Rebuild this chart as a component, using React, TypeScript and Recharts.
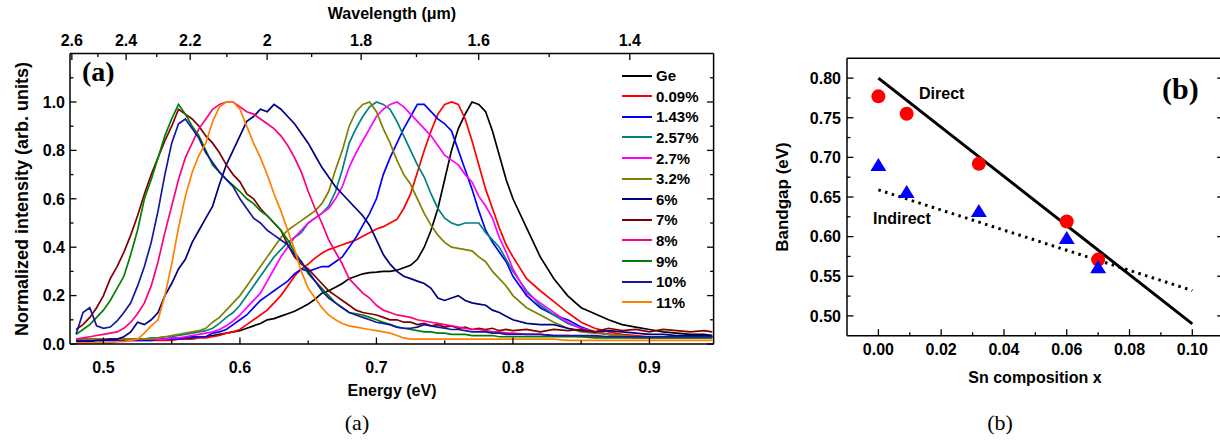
import { LineChart, Line, XAxis, YAxis, ComposedChart, Scatter } from 'recharts';

const SANS = '"Liberation Sans", Arial, sans-serif';
const SERIF = '"Liberation Serif", "Times New Roman", serif';

// ---- (a) normalized PL spectra on a shared energy grid (eV) ----
const energyGrid = [
  0.48, 0.485, 0.49, 0.495, 0.5, 0.505, 0.51, 0.515, 0.52, 0.525,
  0.53, 0.535, 0.54, 0.545, 0.55, 0.555, 0.56, 0.565, 0.57, 0.575,
  0.58, 0.585, 0.59, 0.595, 0.6, 0.605, 0.61, 0.615, 0.62, 0.625,
  0.63, 0.635, 0.64, 0.645, 0.65, 0.655, 0.66, 0.665, 0.67, 0.675,
  0.68, 0.685, 0.69, 0.695, 0.7, 0.705, 0.71, 0.715, 0.72, 0.725,
  0.73, 0.735, 0.74, 0.745, 0.75, 0.755, 0.76, 0.765, 0.77, 0.775,
  0.78, 0.785, 0.79, 0.795, 0.8,
  0.81, 0.82, 0.83, 0.84, 0.85, 0.86, 0.87, 0.88, 0.89, 0.9, 0.91, 0.92, 0.93, 0.94, 0.946,
];

const ge = [
  0.02, 0.02, 0.02, 0.02, 0.02, 0.02, 0.02, 0.02, 0.02, 0.02,
  0.02, 0.02, 0.02, 0.02, 0.025, 0.025, 0.025, 0.03, 0.03, 0.03,
  0.035, 0.04, 0.045, 0.05, 0.055, 0.065, 0.075, 0.085, 0.1, 0.105,
  0.115, 0.125, 0.135, 0.15, 0.165, 0.185, 0.21, 0.22, 0.235, 0.25,
  0.27, 0.28, 0.29, 0.295, 0.297, 0.3, 0.3, 0.305, 0.315, 0.325,
  0.35, 0.4, 0.47, 0.56, 0.68, 0.8, 0.89, 0.95, 1.0, 0.99,
  0.96, 0.88, 0.78, 0.68, 0.6,
  0.48, 0.36, 0.27, 0.2, 0.15, 0.125, 0.1, 0.08, 0.07, 0.06, 0.05, 0.045, 0.04, 0.04, 0.035,
];
const sn009 = [
  0.015, 0.015, 0.015, 0.015, 0.015, 0.015, 0.015, 0.015, 0.015, 0.015,
  0.015, 0.015, 0.015, 0.015, 0.015, 0.02, 0.02, 0.02, 0.025, 0.025,
  0.03, 0.035, 0.045, 0.05, 0.06, 0.08, 0.1, 0.12, 0.14, 0.17,
  0.2, 0.24, 0.28, 0.31, 0.33, 0.355, 0.375, 0.39, 0.4, 0.41,
  0.42, 0.43, 0.445, 0.46, 0.475, 0.485, 0.5, 0.515, 0.56, 0.62,
  0.71, 0.8, 0.88, 0.95, 0.99, 1.0, 0.99, 0.93, 0.84, 0.74,
  0.64, 0.56, 0.48, 0.41, 0.36,
  0.27, 0.22, 0.175, 0.13, 0.09, 0.065, 0.05, 0.04, 0.035, 0.03, 0.03, 0.03, 0.03, 0.03, 0.03,
];
const sn143 = [
  0.015, 0.015, 0.015, 0.015, 0.015, 0.015, 0.015, 0.015, 0.015, 0.015,
  0.015, 0.015, 0.02, 0.02, 0.02, 0.02, 0.025, 0.025, 0.03, 0.03,
  0.045, 0.05, 0.06, 0.08, 0.1, 0.12, 0.15, 0.18, 0.2, 0.22,
  0.24, 0.26, 0.29, 0.31, 0.3, 0.31, 0.32, 0.32, 0.34, 0.36,
  0.4, 0.44, 0.49, 0.54, 0.6, 0.7, 0.77, 0.83, 0.89, 0.94,
  0.99, 0.99, 0.96, 0.93, 0.91, 0.88, 0.8, 0.72, 0.64, 0.55,
  0.47, 0.42, 0.38, 0.34, 0.28,
  0.2, 0.15, 0.12, 0.1, 0.07, 0.05, 0.04, 0.035, 0.03, 0.03, 0.03, 0.03, 0.03, 0.03, 0.03,
];
const sn257 = [
  0.02, 0.02, 0.02, 0.02, 0.02, 0.02, 0.02, 0.02, 0.02, 0.02,
  0.02, 0.025, 0.025, 0.03, 0.03, 0.035, 0.04, 0.045, 0.05, 0.055,
  0.065, 0.085, 0.11, 0.13, 0.16, 0.2, 0.24, 0.28, 0.32, 0.36,
  0.39, 0.42, 0.44, 0.46, 0.5, 0.52, 0.54, 0.57, 0.63, 0.72,
  0.83, 0.89, 0.94, 0.98, 1.0, 0.99, 0.97, 0.92, 0.86, 0.8,
  0.74, 0.69, 0.62, 0.56, 0.52, 0.5, 0.49, 0.5, 0.5, 0.5,
  0.46, 0.43, 0.4, 0.35, 0.3,
  0.22, 0.16, 0.12, 0.085, 0.065, 0.05, 0.04, 0.035, 0.03, 0.03, 0.03, 0.03, 0.03, 0.03, 0.03,
];
const sn27 = [
  0.02, 0.02, 0.02, 0.02, 0.02, 0.02, 0.02, 0.02, 0.02, 0.02,
  0.02, 0.02, 0.02, 0.02, 0.025, 0.025, 0.03, 0.035, 0.04, 0.045,
  0.05, 0.06, 0.075, 0.095, 0.12, 0.15, 0.18, 0.21, 0.26, 0.31,
  0.36, 0.4, 0.44, 0.47, 0.5, 0.52, 0.54, 0.56, 0.6, 0.65,
  0.73, 0.79, 0.84, 0.89, 0.94, 0.97, 0.99, 1.0, 0.98, 0.95,
  0.92, 0.89, 0.86, 0.82, 0.78, 0.76, 0.74, 0.7, 0.67, 0.61,
  0.57, 0.52, 0.44, 0.38, 0.31,
  0.21, 0.17, 0.13, 0.09, 0.065, 0.05, 0.04, 0.035, 0.03, 0.03, 0.03, 0.03, 0.03, 0.03, 0.03,
];
const sn32 = [
  0.02, 0.02, 0.02, 0.02, 0.02, 0.02, 0.02, 0.02, 0.02, 0.02,
  0.02, 0.02, 0.025, 0.03, 0.035, 0.04, 0.045, 0.05, 0.055, 0.065,
  0.09, 0.11, 0.14, 0.17, 0.2, 0.24, 0.28, 0.32, 0.36, 0.4,
  0.44, 0.47, 0.49, 0.51, 0.53, 0.55, 0.58, 0.63, 0.72, 0.8,
  0.9, 0.96, 0.99, 1.0, 0.96, 0.89, 0.83, 0.76, 0.7, 0.66,
  0.6, 0.54, 0.49, 0.45, 0.42, 0.4, 0.395, 0.39, 0.385, 0.36,
  0.34, 0.3, 0.27, 0.24, 0.2,
  0.15, 0.12, 0.09, 0.065, 0.05, 0.045, 0.04, 0.035, 0.03, 0.03, 0.03, 0.03, 0.03, 0.03, 0.03,
];
const sn6 = [
  0.01, 0.01, 0.01, 0.015, 0.015, 0.02, 0.02, 0.03, 0.05, 0.09,
  0.08, 0.1, 0.13, 0.2, 0.25, 0.31, 0.35, 0.42, 0.47, 0.52,
  0.57, 0.66, 0.74, 0.8, 0.86, 0.92, 0.94, 0.97, 0.96, 0.99,
  0.97, 0.94, 0.91, 0.87, 0.83, 0.78, 0.73, 0.69, 0.65, 0.62,
  0.59, 0.56, 0.53, 0.49, 0.43, 0.37, 0.33, 0.3, 0.28, 0.27,
  0.26, 0.25, 0.23, 0.19, 0.18, 0.19, 0.2, 0.18, 0.17, 0.165,
  0.16, 0.14, 0.13, 0.115, 0.1,
  0.085, 0.08, 0.08, 0.065, 0.055, 0.05, 0.055, 0.05, 0.045, 0.04, 0.04, 0.035, 0.035, 0.035, 0.035,
];
const sn7 = [
  0.06, 0.08, 0.11, 0.15, 0.2, 0.27, 0.32, 0.38, 0.45, 0.53,
  0.62, 0.7, 0.77, 0.84, 0.9, 0.97, 0.95, 0.93, 0.9, 0.86,
  0.83, 0.79, 0.74, 0.7, 0.67, 0.62, 0.6, 0.56, 0.53, 0.5,
  0.47, 0.41, 0.36, 0.33, 0.31, 0.28, 0.25, 0.22, 0.2, 0.18,
  0.16, 0.14, 0.13, 0.125, 0.12, 0.11, 0.1, 0.1, 0.09, 0.09,
  0.08, 0.085, 0.075, 0.08, 0.07, 0.075, 0.065, 0.07, 0.06, 0.065,
  0.06, 0.065, 0.055, 0.06, 0.055,
  0.06, 0.05, 0.06, 0.055, 0.06, 0.05, 0.065, 0.055, 0.06, 0.05, 0.06, 0.055, 0.05, 0.055, 0.05,
];
const sn8 = [
  0.02, 0.025, 0.03, 0.035, 0.04, 0.045, 0.05, 0.065, 0.09, 0.125,
  0.17, 0.24, 0.34, 0.46, 0.57, 0.68, 0.77, 0.83, 0.89, 0.93,
  0.97, 0.99, 1.0, 1.0, 0.98, 0.96, 0.95, 0.93, 0.91, 0.89,
  0.86, 0.82, 0.77, 0.71, 0.63, 0.56, 0.5, 0.43, 0.38, 0.33,
  0.27, 0.24, 0.21, 0.19, 0.16, 0.14, 0.13, 0.12, 0.115, 0.11,
  0.1, 0.095, 0.09, 0.085, 0.08, 0.075, 0.07, 0.065, 0.06, 0.06,
  0.055, 0.05, 0.05, 0.045, 0.045,
  0.04, 0.04, 0.035, 0.035, 0.03, 0.03, 0.03, 0.03, 0.025, 0.025, 0.025, 0.025, 0.025, 0.025, 0.025,
];
const sn9 = [
  0.04, 0.06, 0.08, 0.11, 0.14, 0.18, 0.23, 0.28, 0.37, 0.47,
  0.6, 0.68, 0.77, 0.86, 0.93, 0.99, 0.95, 0.9, 0.86, 0.8,
  0.74, 0.71, 0.68, 0.655, 0.63, 0.6, 0.58, 0.55, 0.53, 0.5,
  0.47, 0.43, 0.38, 0.34, 0.29, 0.26, 0.23, 0.2, 0.17, 0.15,
  0.13, 0.125, 0.12, 0.11, 0.1, 0.09, 0.08, 0.07, 0.065, 0.06,
  0.055, 0.05, 0.05, 0.045, 0.045, 0.04, 0.04, 0.04, 0.035, 0.035,
  0.035, 0.035, 0.03, 0.03, 0.03,
  0.03, 0.03, 0.03, 0.03, 0.03, 0.025, 0.025, 0.025, 0.025, 0.025, 0.025, 0.025, 0.025, 0.025, 0.025,
];
const sn10 = [
  0.04, 0.13, 0.15, 0.075, 0.065, 0.07, 0.095, 0.13, 0.17, 0.24,
  0.32, 0.42, 0.55, 0.7, 0.83, 0.91, 0.93, 0.89, 0.85, 0.79,
  0.75, 0.71, 0.68, 0.65, 0.6, 0.56, 0.52, 0.5, 0.47, 0.45,
  0.43, 0.41, 0.37, 0.34, 0.3, 0.26, 0.22, 0.19, 0.17, 0.15,
  0.13, 0.12, 0.11, 0.1, 0.09, 0.085, 0.08, 0.07, 0.065, 0.065,
  0.07, 0.08, 0.075, 0.07, 0.065, 0.06, 0.06, 0.055, 0.05, 0.05,
  0.05, 0.045, 0.045, 0.04, 0.04,
  0.04, 0.04, 0.035, 0.035, 0.035, 0.035, 0.03, 0.03, 0.03, 0.03, 0.03, 0.03, 0.03, 0.03, 0.03,
];
const sn11 = [
  0.005, 0.005, 0.005, 0.005, 0.005, 0.005, 0.01, 0.01, 0.015, 0.02,
  0.045, 0.075, 0.1, 0.2, 0.33, 0.48, 0.61, 0.71, 0.78, 0.83,
  0.92, 0.98, 1.0, 1.0, 0.97, 0.9, 0.83, 0.77, 0.7, 0.62,
  0.55, 0.47, 0.39, 0.3, 0.23, 0.19, 0.15, 0.12, 0.1, 0.085,
  0.075, 0.07, 0.065, 0.06, 0.055, 0.05, 0.045, 0.035, 0.025, 0.02,
  0.02, 0.02, 0.02, 0.02, 0.02, 0.02, 0.02, 0.02, 0.02, 0.02,
  0.02, 0.02, 0.02, 0.02, 0.02,
  0.02, 0.02, 0.02, 0.015, 0.015, 0.015, 0.015, 0.015, 0.015, 0.015, 0.015, 0.015, 0.015, 0.015, 0.015,
];

const spectraSeries = [
  { key: 'ge', name: 'Ge', color: '#000000', values: ge },
  { key: 'sn009', name: '0.09%', color: '#ff0000', values: sn009 },
  { key: 'sn143', name: '1.43%', color: '#0000ff', values: sn143 },
  { key: 'sn257', name: '2.57%', color: '#008080', values: sn257 },
  { key: 'sn27', name: '2.7%', color: '#ff00ff', values: sn27 },
  { key: 'sn32', name: '3.2%', color: '#808000', values: sn32 },
  { key: 'sn6', name: '6%', color: '#000080', values: sn6 },
  { key: 'sn7', name: '7%', color: '#800000', values: sn7 },
  { key: 'sn8', name: '8%', color: '#ff0080', values: sn8 },
  { key: 'sn9', name: '9%', color: '#008000', values: sn9 },
  { key: 'sn10', name: '10%', color: '#1515a8', values: sn10 },
  { key: 'sn11', name: '11%', color: '#ff8000', values: sn11 },
];

const spectraRows = energyGrid.map((e, i) => {
  const row: Record<string, number> = { e };
  spectraSeries.forEach((s) => {
    row[s.key] = s.values[i];
  });
  return row;
});

const energyTicks = [0.5, 0.55, 0.6, 0.65, 0.7, 0.75, 0.8, 0.85, 0.9];
const energyMajor = [0.5, 0.6, 0.7, 0.8, 0.9];
const intensityTicks = [0, 0.1, 0.2, 0.3, 0.4, 0.5, 0.6, 0.7, 0.8, 0.9, 1.0, 1.1];
const intensityMajor = [0, 0.2, 0.4, 0.6, 0.8, 1.0];
const wavelengthTicks = [2.6, 2.5, 2.4, 2.3, 2.2, 2.1, 2.0, 1.9, 1.8, 1.7, 1.6, 1.5, 1.4];
const wavelengthMajor = [2.6, 2.4, 2.2, 2.0, 1.8, 1.6, 1.4];

const HC = 1.23984; // eV * um
const wavelengthTickEnergies = wavelengthTicks.map((w) => HC / w);

// ---- (b) bandgap vs Sn content ----
const snComposition = [0, 0.009, 0.032, 0.06, 0.07];
const directGap = [0.777, 0.755, 0.692, 0.619, 0.571];
const indirectGap = [0.689, 0.655, 0.631, 0.597, 0.56];
const fitX = [0, 0.1];
const directFitY = [0.8, 0.49];
const indirectFitY = [0.659, 0.532];

const compTicks = [0, 0.01, 0.02, 0.03, 0.04, 0.05, 0.06, 0.07, 0.08, 0.09, 0.1];
const compMajor = [0, 0.02, 0.04, 0.06, 0.08, 0.1];
const gapTicks = [0.5, 0.525, 0.55, 0.575, 0.6, 0.625, 0.65, 0.675, 0.7, 0.725, 0.75, 0.775, 0.8];
const gapMajor = [0.5, 0.55, 0.6, 0.65, 0.7, 0.75, 0.8];

const directPoints = snComposition.map((x, i) => ({ x, y: directGap[i] }));
const indirectPoints = snComposition.map((x, i) => ({ x, y: indirectGap[i] }));
const directFit = fitX.map((x, i) => ({ x, y: directFitY[i] }));
const indirectFit = fitX.map((x, i) => ({ x, y: indirectFitY[i] }));

// ---- frame ticks: inward tick marks, labels outside ----
type Side = 'top' | 'bottom' | 'left' | 'right';

const near = (list: number[], v: number) => list.some((m) => Math.abs(m - v) < 1e-6);

function makeTick(
  side: Side,
  edge: number,
  isMajor: (v: number) => boolean,
  format: ((v: number) => string) | null,
  gap = 0,
) {
  return (props: any) => {
    const v: number = props.payload.value;
    const c: number = props.payload.coordinate;
    const major = isMajor(v);
    const len = major ? 6.5 : 3.5;
    const label = major && format ? format(v) : null;
    let line = null;
    let text = null;
    const textProps = { fill: '#000', stroke: 'none', fontFamily: SANS, fontWeight: 'bold' as const, fontSize: 16 };
    if (side === 'bottom') {
      line = <line x1={c} x2={c} y1={edge} y2={edge - len} />;
      if (label) text = <text x={c} y={edge + gap} textAnchor="middle" {...textProps}>{label}</text>;
    } else if (side === 'top') {
      line = <line x1={c} x2={c} y1={edge} y2={edge + len} />;
      if (label) text = <text x={c} y={edge - gap} textAnchor="middle" {...textProps}>{label}</text>;
    } else if (side === 'left') {
      line = <line x1={edge} x2={edge + len} y1={c} y2={c} />;
      if (label) text = <text x={edge - gap} y={c + 5.8} textAnchor="end" {...textProps}>{label}</text>;
    } else {
      line = <line x1={edge} x2={edge - len} y1={c} y2={c} />;
    }
    return (
      <g>
        <g stroke="#000" strokeWidth={1.3}>{line}</g>
        {text}
      </g>
    );
  };
}

const frameLine = { stroke: '#000', strokeWidth: 1.5 };

// (a) plot box inside its svg
const A = { left: 70, right: 713.6, top: 53.6, bottom: 344 };
// (b) plot box inside its svg (svg starts at x = 760)
const B = { left: 87, right: 463.7, top: 58.3, bottom: 335.7 };

const energyDomain: [number, number] = [0.4755, 0.947];

function SpectraPanel() {
  const wlLabel = (e: number) => String(Number((HC / e).toFixed(1)));
  const wlMajor = (e: number) => near(wavelengthMajor, Number((HC / e).toFixed(2)));
  return (
    <div style={{ position: 'absolute', left: 0, top: 0 }}>
      <LineChart
        width={730}
        height={440}
        data={spectraRows}
        margin={{ top: A.top - 1, right: 730 - A.right - 1, bottom: 0, left: 0 }}
      >
        <XAxis
          xAxisId="e"
          dataKey="e"
          type="number"
          domain={energyDomain}
          allowDataOverflow
          ticks={energyTicks}
          interval={0}
          height={440 - A.bottom}
          axisLine={frameLine}
          tickLine={false}
          tick={makeTick('bottom', A.bottom, (v) => near(energyMajor, v), (v) => v.toFixed(1), 28.8)}
        />
        {/* wavelength scale on top: same energy axis, ticks placed at hc/lambda */}
        <XAxis
          xAxisId="wl"
          dataKey="e"
          orientation="top"
          type="number"
          domain={energyDomain}
          allowDataOverflow
          ticks={wavelengthTickEnergies}
          interval={0}
          height={1}
          axisLine={frameLine}
          tickLine={false}
          tick={makeTick('top', A.top, wlMajor, wlLabel, 8)}
        />
        <YAxis
          yAxisId="i"
          type="number"
          domain={[0, 1.2]}
          allowDataOverflow
          ticks={intensityTicks}
          interval={0}
          width={A.left}
          axisLine={frameLine}
          tickLine={false}
          tick={makeTick('left', A.left, (v) => near(intensityMajor, v), (v) => v.toFixed(1), 5)}
        />
        <YAxis
          yAxisId="r"
          orientation="right"
          type="number"
          domain={[0, 1.2]}
          allowDataOverflow
          ticks={intensityTicks}
          interval={0}
          width={1}
          axisLine={frameLine}
          tickLine={false}
          tick={makeTick('right', A.right, (v) => near(intensityMajor, v), null)}
        />
        {spectraSeries.map((s) => (
          <Line
            key={s.key}
            xAxisId="e"
            yAxisId="i"
            type="linear"
            dataKey={s.key}
            name={s.name}
            stroke={s.color}
            strokeWidth={1.7}
            dot={false}
            activeDot={false}
            isAnimationActive={false}
          />
        ))}
      </LineChart>
    </div>
  );
}

function BandgapPanel() {
  return (
    <div style={{ position: 'absolute', left: 760, top: 0 }}>
      <ComposedChart
        width={470}
        height={440}
        margin={{ top: B.top - 1, right: 470 - B.right - 1, bottom: 0, left: 0 }}
      >
        <XAxis
          xAxisId="x"
          dataKey="x"
          type="number"
          domain={[-0.01, 0.11]}
          allowDataOverflow
          ticks={compTicks}
          interval={0}
          height={440 - B.bottom}
          axisLine={frameLine}
          tickLine={false}
          tick={makeTick('bottom', B.bottom, (v) => near(compMajor, v), (v) => v.toFixed(2), 19.3)}
        />
        <XAxis
          xAxisId="xt"
          orientation="top"
          type="number"
          domain={[-0.01, 0.11]}
          allowDataOverflow
          ticks={compTicks}
          interval={0}
          height={1}
          axisLine={frameLine}
          tickLine={false}
          tick={makeTick('top', B.top, (v) => near(compMajor, v), null)}
        />
        <YAxis
          yAxisId="y"
          dataKey="y"
          type="number"
          domain={[0.475, 0.825]}
          allowDataOverflow
          ticks={gapTicks}
          interval={0}
          width={B.left}
          axisLine={frameLine}
          tickLine={false}
          tick={makeTick('left', B.left, (v) => near(gapMajor, v), (v) => v.toFixed(2), 6)}
        />
        <YAxis
          yAxisId="yr"
          orientation="right"
          type="number"
          domain={[0.475, 0.825]}
          allowDataOverflow
          ticks={gapTicks}
          interval={0}
          width={1}
          axisLine={frameLine}
          tickLine={false}
          tick={makeTick('right', B.right, (v) => near(gapMajor, v), null)}
        />
        <Line
          xAxisId="x"
          yAxisId="y"
          data={directFit}
          dataKey="y"
          type="linear"
          stroke="#000"
          strokeWidth={3}
          dot={false}
          activeDot={false}
          isAnimationActive={false}
        />
        <Line
          xAxisId="x"
          yAxisId="y"
          data={indirectFit}
          dataKey="y"
          type="linear"
          stroke="#000"
          strokeWidth={3}
          strokeDasharray="2.5 4.5"
          dot={false}
          activeDot={false}
          isAnimationActive={false}
        />
        <Scatter
          xAxisId="x"
          yAxisId="y"
          data={directPoints}
          fill="#ff0000"
          isAnimationActive={false}
          shape={(p: any) => <circle cx={p.cx} cy={p.cy} r={7} fill="#ff0000" />}
        />
        <Scatter
          xAxisId="x"
          yAxisId="y"
          data={indirectPoints}
          fill="#0000ff"
          isAnimationActive={false}
          shape={(p: any) => (
            <polygon
              points={`${p.cx},${p.cy - 8} ${p.cx - 8},${p.cy + 5} ${p.cx + 8},${p.cy + 5}`}
              fill="#0000ff"
            />
          )}
        />
      </ComposedChart>
    </div>
  );
}

const centered = (x: number, y: number, extra: React.CSSProperties = {}): React.CSSProperties => ({
  position: 'absolute',
  left: x,
  top: y,
  transform: 'translate(-50%, -50%)',
  whiteSpace: 'nowrap',
  lineHeight: 1,
  ...extra,
});

const bold = { fontFamily: SANS, fontWeight: 'bold' as const };

export default function App() {
  return (
    <div
      style={{
        position: 'fixed',
        left: 0,
        top: 0,
        width: 1220,
        height: 440,
        overflow: 'hidden',
        background: '#fff',
        color: '#000',
      }}
    >
      <SpectraPanel />
      <BandgapPanel />

      {/* panel (a) texts */}
      <div style={centered(392, 14, { ...bold, fontSize: 16 })}>Wavelength (μm)</div>
      <div style={centered(392, 391, { ...bold, fontSize: 16 })}>Energy (eV)</div>
      <div style={centered(22, 199, { ...bold, fontSize: 18, transform: 'translate(-50%, -50%) rotate(-90deg)' })}>
        Normalized intensity (arb. units)
      </div>
      <div style={{ position: 'absolute', left: 82, top: 58, fontFamily: SERIF, fontWeight: 'bold', fontSize: 28, lineHeight: 1 }}>
        (a)
      </div>
      <div style={{ position: 'absolute', left: 622, top: 65.4, ...bold, fontSize: 15 }}>
        {spectraSeries.map((s) => (
          <div key={s.key} style={{ height: 20.6, display: 'flex', alignItems: 'center' }}>
            <span style={{ width: 30, height: 2, background: s.color, marginRight: 4 }} />
            <span style={{ lineHeight: 1 }}>{s.name}</span>
          </div>
        ))}
      </div>

      {/* panel (b) texts */}
      <div style={centered(1035, 378, { ...bold, fontSize: 16 })}>Sn composition x</div>
      <div style={centered(782, 197, { ...bold, fontSize: 17, transform: 'translate(-50%, -50%) rotate(-90deg)' })}>
        Bandgap (eV)
      </div>
      <div style={{ position: 'absolute', left: 919, top: 86, ...bold, fontSize: 16, lineHeight: 1 }}>Direct</div>
      <div style={{ position: 'absolute', left: 873, top: 211, ...bold, fontSize: 16, lineHeight: 1 }}>Indirect</div>
      <div style={{ position: 'absolute', left: 1162, top: 74, fontFamily: SERIF, fontWeight: 'bold', fontSize: 30, lineHeight: 1 }}>
        (b)
      </div>

      {/* captions */}
      <div style={centered(357, 423, { fontFamily: SERIF, fontSize: 22 })}>(a)</div>
      <div style={centered(1000, 423, { fontFamily: SERIF, fontSize: 22 })}>(b)</div>
    </div>
  );
}
